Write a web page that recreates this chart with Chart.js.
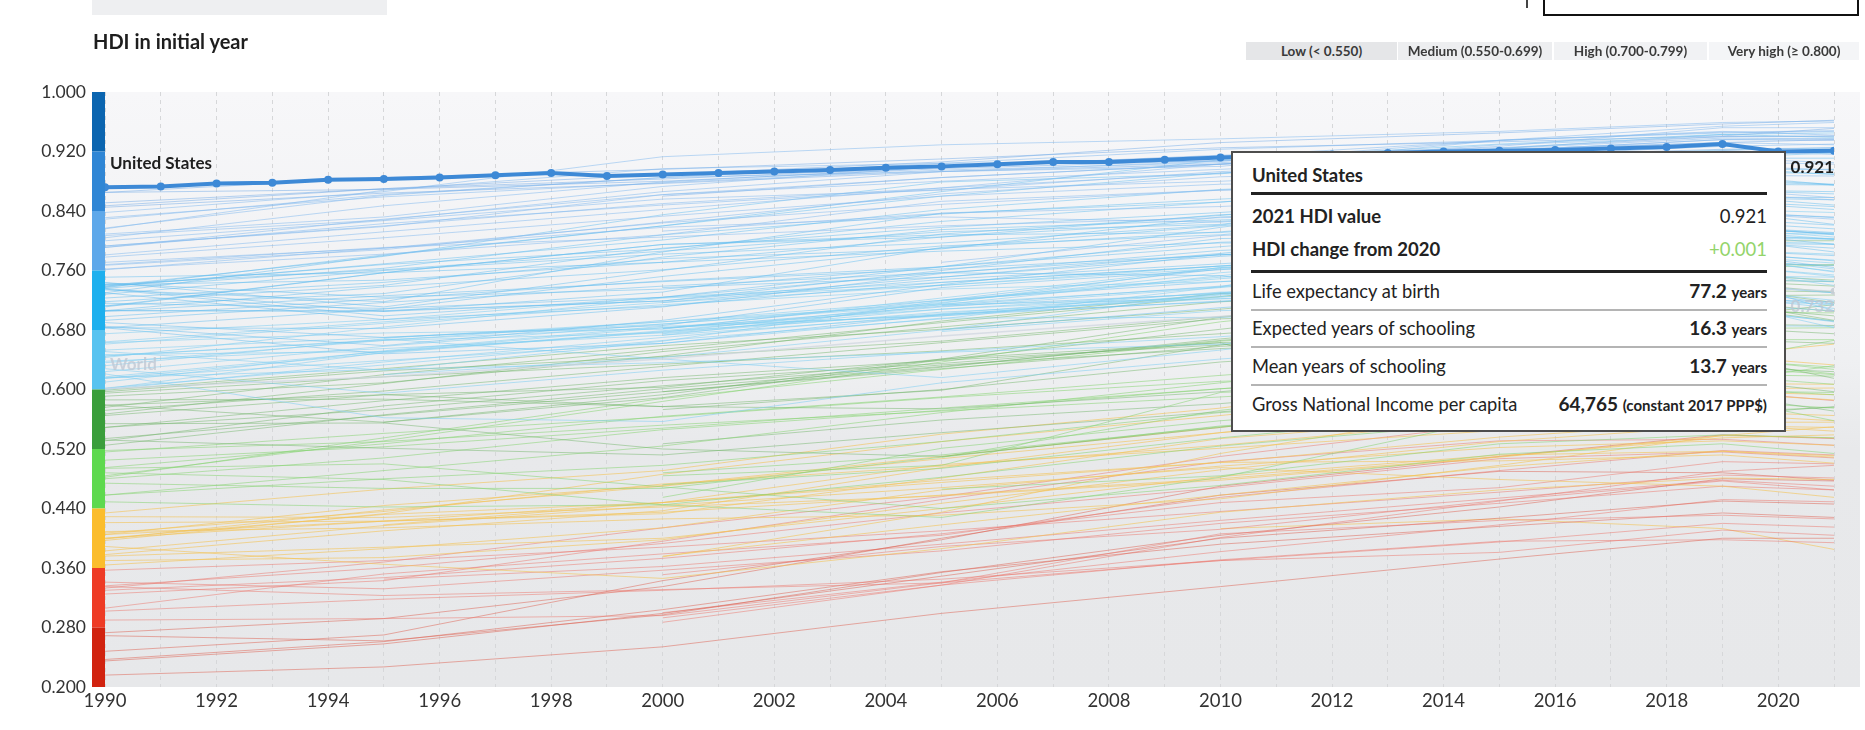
<!DOCTYPE html>
<html>
<head>
<meta charset="utf-8">
<script src="https://cdn.jsdelivr.net/npm/chart.js@4.4.1/dist/chart.umd.min.js"></script>
<style>
html,body{margin:0;padding:0;background:#fff;width:1865px;height:730px;overflow:hidden;font-family:Lato,"Noto Sans",sans-serif;color:#222;}
#c{position:absolute;left:0;top:0;}
.abs{position:absolute;}
#sel{left:92px;top:0;width:295px;height:15px;background:#eeeff1;}
#blk{left:1543px;top:-2px;width:312px;height:16px;border:2px solid #111;border-top:none;}
#mark{left:1526px;top:0;width:2px;height:8px;background:#444;}
#title{left:93px;top:28px;font-size:20px;font-weight:700;line-height:26px;color:#1e1e1e;white-space:nowrap;}
.leg{top:42px;height:18px;line-height:18px;font-size:13.5px;font-weight:700;color:#3a3a3a;text-align:center;white-space:nowrap;}
#tip{left:1231px;top:151px;width:551px;height:277px;background:#fff;border:2px solid #4d4d4d;z-index:5;}
.row{position:absolute;left:19px;right:17px;height:24px;line-height:24px;display:flex;justify-content:space-between;align-items:baseline;font-size:18.3px;white-space:nowrap;}
.b{font-weight:700;font-size:18.5px;}
.rule{position:absolute;left:18px;right:17px;}
.thick{height:3px;background:#222;}
.thin{height:1.5px;background:#b4b4b4;}
.num{font-weight:700;font-size:19px;}
.unit{font-weight:700;font-size:15px;}
.green{color:#93d46a;font-weight:400;font-size:18.5px;}
.val{font-weight:400;font-size:18.5px;}
</style>
</head>
<body>
<canvas id="c" width="1865" height="730"></canvas>
<div id="sel" class="abs"></div>
<div id="blk" class="abs"></div>
<div id="mark" class="abs"></div>
<div id="title" class="abs">HDI in initial year</div>
<div class="abs leg" style="left:1246px;width:151px;background:#e5e6e8">Low (&lt; 0.550)</div>
<div class="abs leg" style="left:1398px;width:154px;background:#edeef0">Medium (0.550-0.699)</div>
<div class="abs leg" style="left:1554px;width:153px;background:#f1f2f4">High (0.700-0.799)</div>
<div class="abs leg" style="left:1709px;width:150px;background:#f4f5f7">Very high (≥ 0.800)</div>

<div id="tip" class="abs">
  <div class="row b" style="top:10px">United States</div>
  <div class="rule thick" style="top:39px"></div>
  <div class="row" style="top:51px"><span class="b">2021 HDI value</span><span class="val">0.921</span></div>
  <div class="row" style="top:84px"><span class="b">HDI change from 2020</span><span class="green">+0.001</span></div>
  <div class="rule thick" style="top:117px"></div>
  <div class="row" style="top:126px"><span>Life expectancy at birth</span><span><span class="num">77.2</span> <span class="unit">years</span></span></div>
  <div class="rule thin" style="top:156px"></div>
  <div class="row" style="top:163px"><span>Expected years of schooling</span><span><span class="num">16.3</span> <span class="unit">years</span></span></div>
  <div class="rule thin" style="top:193px"></div>
  <div class="row" style="top:201px"><span>Mean years of schooling</span><span><span class="num">13.7</span> <span class="unit">years</span></span></div>
  <div class="rule thin" style="top:231px"></div>
  <div class="row" style="top:239px"><span>Gross National Income per capita</span><span><span class="num">64,765</span> <span class="unit">(constant 2017 PPP$)</span></span></div>
</div>

<script>
// ---------- data ----------
const years = [1990, 1995, 2000, 2005, 2010, 2015, 2019, 2021];

const usYears = [1990,1991,1992,1993,1994,1995,1996,1997,1998,1999,2000,2001,2002,2003,2004,2005,
                 2006,2007,2008,2009,2010,2011,2012,2013,2014,2015,2016,2017,2018,2019,2020,2021];
const usHDI = [0.872,0.873,0.877,0.878,0.882,0.883,0.885,0.888,0.891,0.887,0.889,0.891,0.893,0.895,0.898,0.900,
               0.903,0.906,0.906,0.909,0.912,0.914,0.916,0.918,0.920,0.921,0.922,0.924,0.926,0.930,0.920,0.921];

const worldHDI = [0.601,0.617,0.641,0.672,0.698,0.722,0.739,0.732];

const xTickYears = [1990,1991,1992,1993,1994,1995,1996,1997,1998,1999,2000,2001,2002,2003,2004,2005,
                    2006,2007,2008,2009,2010,2011,2012,2013,2014,2015,2016,2017,2018,2019,2020,2021];
const yTickValues = [0.200,0.280,0.360,0.440,0.520,0.600,0.680,0.760,0.840,0.920,1.000];

const bandEdges = [1.00,0.92,0.84,0.76,0.68,0.60,0.52,0.44,0.36,0.28,0.20];

// countries starting at 0.76 or above
const veryHighStart = [
 [.851,.870,.889,.906,.932,.945,.957,.962],
 [.838,.866,.913,.929,.937,.947,.959,.961],
 [.807,.828,.866,.893,.900,.935,.954,.959],
 [.865,.885,.896,.910,.925,.933,.941,.951],
 [.847,.870,.883,.899,.915,.925,.940,.941],
 [.865,.869,.880,.897,.908,.921,.932,.936],
 [.845,.864,.877,.893,.903,.914,.923,.925],
 [.831,.859,.878,.895,.905,.921,.936,.937],
 [.829,.862,.885,.904,.923,.935,.947,.942],
 [.817,.861,.885,.893,.907,.924,.938,.937],
 [.816,.868,.897,.904,.907,.935,.945,.947],
 [.809,.832,.873,.900,.913,.935,.946,.948],
 [.804,.847,.879,.899,.914,.923,.932,.929],
 [.800,.827,.856,.868,.893,.907,.921,.916],
 [.793,.819,.862,.885,.903,.929,.940,.940],
 [.793,.820,.850,.871,.891,.907,.919,.919],
 [.791,.823,.848,.869,.880,.896,.906,.903],
 [.791,.829,.862,.880,.896,.914,.927,.930],
 [.781,.812,.842,.871,.903,.927,.952,.952],
 [.778,.804,.833,.860,.876,.882,.901,.895],
 [.768,.791,.805,.820,.831,.838,.838,.829],
 [.771,.790,.818,.832,.825,.853,.863,.855],
 [.762,.782,.808,.853,.868,.870,.888,.887],
 [.761,.790,.824,.849,.868,.887,.911,.905],
 [.767,.788,.825,.863,.886,.896,.921,.918],
 [null,null,.860,.885,.903,.921,.936,.935],
 [null,null,.813,.837,.846,.864,.869,.858]
];

// countries starting between 0.60 and 0.76
const highStart = [
 [.739,.779,.835,.879,.890,.924,.943,.945],
 [.737,.781,.820,.860,.891,.911,.922,.925],
 [.730,.780,.820,.866,.909,.930,.943,.939],
 [.739,.768,.789,.826,.852,.882,.912,.918],
 [.736,.763,.808,.836,.856,.873,.896,.896],
 [.734,.718,.785,.837,.852,.875,.893,.890],
 [.738,.769,.801,.842,.869,.883,.898,.889],
 [.744,.711,.760,.809,.834,.865,.881,.875],
 [.736,.705,.731,.791,.820,.850,.868,.863],
 [.741,.747,.771,.805,.835,.849,.860,.848],
 [.718,.740,.790,.818,.838,.862,.883,.876],
 [.713,.729,.778,.815,.828,.838,.853,.846],
 [.711,.757,.795,.805,.826,.847,.868,.866],
 [.743,.724,.735,.765,.792,.820,.840,.822],
 [.735,.699,.724,.765,.798,.808,.821,.808],
 [.730,.694,.712,.744,.766,.779,.785,.773],
 [.741,.761,.786,.812,.822,.867,.888,.875],
 [.728,.760,.782,.797,.821,.871,.911,.911],
 [.712,.757,.795,.808,.811,.839,.840,.831],
 [.723,.744,.776,.789,.832,.847,.852,.842],
 [.751,.757,.771,.786,.797,.796,.799,.790],
 [.706,.738,.761,.793,.808,.841,.858,.855],
 [.705,.726,.745,.762,.781,.808,.818,.809],
 [.706,.706,.719,.751,.779,.800,.810,.795],
 [.706,.705,.719,.760,.803,.807,.829,.821],
 [.683,.708,.752,.790,.812,.841,.859,.858],
 [.690,.670,.686,.737,.761,.797,.819,.811],
 [.683,.682,.711,.756,.787,.801,.816,.810],
 [.685,.659,.693,.741,.782,.771,.783,.764],
 [.716,.709,.724,.757,.781,.795,.809,.802],
 [.693,.717,.739,.757,.753,.706,.722,.718],
 [.698,.722,.746,.765,.818,.864,.876,.875],
 [.664,.691,.717,.740,.766,.796,.810,.809],
 [.675,.694,.724,.744,.766,.790,.817,.805],
 [.661,.689,.714,.735,.745,.759,.779,.758],
 [.663,.676,.681,.723,.764,.758,.710,.691],
 [.643,.684,.723,.740,.763,.788,.806,.803],
 [.645,.666,.676,.708,.730,.762,.761,.740],
 [.653,.670,.688,.714,.722,.725,.726,.709],
 [.651,.626,.665,.719,.749,.770,.776,.759],
 [.636,.666,.691,.720,.751,.774,.787,.782],
 [.624,.658,.688,.717,.757,.784,.804,.802],
 [.645,.667,.683,.708,.725,.742,.742,.730],
 [.632,.668,.641,.616,.653,.698,.727,.713],
 [.616,.627,.636,.650,.661,.693,.714,.706],
 [.617,.651,.683,.700,.728,.758,.780,.762],
 [.615,.649,.678,.702,.731,.728,.734,.720],
 [.601,.650,.679,.711,.737,.770,.783,.774],
 [.621,.562,.557,.609,.641,.666,.686,.685],
 [.628,.595,.626,.651,.671,.696,.707,.692],
 [.600,.637,.670,.701,.724,.753,.767,.752],
 [.602,.633,.666,.695,.738,.804,.842,.838],
 [.683,.648,.662,.701,.718,.750,.771,.767],
 [.647,.651,.677,.716,.764,.789,.800,.796],
 [.615,.639,.662,.696,.697,.709,.717,.683],
 [.610,.652,.685,.699,.727,.755,.766,.754],
 [.638,.655,.673,.699,.719,.733,.748,.745],
 [null,null,null,.720,.762,.755,.749,.706],
 [null,.620,.643,.680,.730,.748,.759,.745],
 [null,null,.673,.714,.753,.790,.814,.802],
 [null,null,.737,.751,.783,.821,.825,.816],
 [null,.669,.691,.715,.738,.761,.780,.770],
 [null,null,.682,.720,.745,.766,.787,.780],
 [null,null,null,.771,.807,.821,.837,.832],
 [null,null,.717,.748,.769,.793,.803,.785],
 [null,null,.682,.712,.729,.730,.735,.715],
 [null,null,null,.713,.739,.779,.797,.795],
 [null,null,.675,.704,.722,.741,.753,.751],
 [null,null,null,.680,.710,.735,.743,.730],
 [null,null,null,.678,.706,.716,.719,.715]
];

// countries starting between 0.44 and 0.60
const mediumStart = [
 [.576,.620,.654,.690,.725,.767,.800,.800],
 [.591,.609,.645,.692,.729,.740,.748,.745],
 [.572,.598,.631,.663,.695,.707,.734,.731],
 [.567,.608,.651,.684,.718,.730,.744,.731],
 [.579,.556,.593,.641,.697,.734,.746,.739],
 [.595,.617,.634,.652,.675,.700,.712,.699],
 [.597,.625,.644,.665,.698,.723,.737,.717],
 [.599,.628,.659,.681,.708,.740,.770,.767],
 [.586,.587,.577,.599,.660,.696,.718,.693],
 [.579,.593,.577,.574,.597,.630,.646,.615],
 [.565,.593,.603,.641,.663,.548,.566,.577],
 [.549,.573,.605,.633,.655,.670,.688,.686],
 [.525,.566,.601,.631,.666,.696,.718,.705],
 [.554,.555,.520,.510,.549,.592,.614,.597],
 [.549,.585,.616,.639,.660,.686,.711,.692],
 [.532,.521,.512,.542,.570,.598,.593,.571],
 [.531,.578,.612,.635,.663,.676,.683,.675],
 [.534,.565,.597,.628,.658,.676,.698,.714],
 [null,null,.573,.600,.637,.660,.667,.662],
 [null,null,.597,.630,.668,.701,.726,.727],
 [null,.556,.589,.640,.681,.722,.755,.747],
 [.516,.541,.563,.589,.611,.623,.636,.621],
 [.495,.527,.564,.590,.619,.646,.667,.667],
 [.494,.500,.469,.440,.471,.513,.527,.514],
 [.488,.479,.445,.428,.482,.561,.601,.593],
 [.484,.531,.584,.637,.691,.729,.762,.768],
 [.482,.535,.588,.627,.665,.689,.704,.703],
 [.480,.508,.546,.572,.601,.628,.642,.627],
 [.474,.467,.467,.509,.551,.573,.584,.575],
 [.458,.491,.524,.569,.609,.648,.682,.683],
 [.458,.480,.498,.530,.569,.590,.611,.632],
 [.449,.442,.445,.482,.524,.556,.570,.576],
 [.505,.523,.548,.575,.601,.622,.640,.630],
 [.518,.530,.552,.571,.590,.611,.630,.620],
 [null,null,.488,.512,.550,.577,.620,.618],
 [null,null,.455,.521,.558,.586,.598,.596],
 [null,null,null,.466,.484,.527,.539,.535],
 [null,null,.484,.498,.596,.611,.618,.607],
 [null,null,.472,.494,.535,.570,.588,.558],
 [null,null,.527,.559,.581,.612,.630,.624],
 [null,null,null,.509,.572,.612,.640,.666]
];

// countries starting between 0.36 and 0.44
const lowStart = [
 [.434,.466,.491,.540,.575,.624,.645,.633],
 [.421,.423,.433,.481,.534,.563,.570,.565],
 [.405,.444,.471,.510,.549,.591,.608,.607],
 [.405,.423,.435,.458,.480,.510,.535,.539],
 [.409,.414,.426,.431,.453,.498,.538,.550],
 [.400,.423,.448,.478,.502,.536,.556,.556],
 [.400,.432,.448,.499,.521,.545,.553,.544],
 [.399,.438,.470,.507,.542,.576,.601,.602],
 [.397,.433,.486,.530,.565,.604,.646,.661],
 [.407,.436,.473,.497,.525,.559,.566,.558],
 [.389,.365,.346,.386,.435,.465,.481,.479],
 [.383,.417,.444,.468,.495,.479,.470,.455],
 [.378,.410,.437,.495,.542,.575,.597,.593],
 [.376,.388,.400,.440,.483,.512,.517,.511],
 [.370,.374,.398,.447,.492,.530,.551,.549],
 [.429,.428,.442,.457,.478,.509,.538,.535],
 [.364,.386,.414,.465,.497,.522,.531,.525],
 [null,.418,.448,.475,.502,.504,.512,.501],
 [null,null,.376,.418,.458,.496,.517,.509],
 [null,null,.375,.435,.514,.575,.595,.586]
];

// countries starting below 0.36
const lowestStart = [
 [.357,.370,.388,.410,.436,.462,.485,.481],
 [.341,.332,.357,.383,.420,.447,.470,.465],
 [.336,.360,.393,.434,.468,.507,.516,.508],
 [.333,.368,.414,.456,.510,.554,.598,.585],
 [.335,.323,.331,.340,.370,.381,.411,.404],
 [.325,.343,.396,.452,.503,.531,.533,.525],
 [.330,.347,.373,.406,.448,.468,.503,.500],
 [.306,.352,.379,.404,.455,.491,.518,.512],
 [.302,.318,.330,.345,.370,.395,.420,.415],
 [.290,.292,.296,.340,.406,.424,.431,.426],
 [.273,.292,.335,.400,.458,.490,.488,.478],
 [.269,.262,.297,.354,.404,.442,.480,.477],
 [.248,.270,.343,.398,.470,.510,.539,.534],
 [.237,.261,.304,.355,.392,.416,.434,.428],
 [.235,.258,.299,.349,.400,.427,.450,.446],
 [.216,.227,.254,.299,.335,.372,.400,.400],
 [null,.345,.362,.392,.424,.454,.478,.470],
 [null,null,.351,.389,.412,.451,.477,.465],
 [null,null,.300,.341,.382,.418,.452,.449],
 [null,null,.293,.337,.371,.396,.398,.394],
 [null,null,.287,.337,.401,.450,.490,.498],
 [null,null,null,null,.413,.426,.413,.385]
];

// ---------- styles ----------
const bandColors = ['#0b65b0','#2f86d5','#5ea8ea','#1eb0ee','#58c3f0','#3a9e3b','#5ed94e','#fbbd2c','#ee3b25','#d1230f'];
const lineColors = ['rgba(95,160,225,0.5)','rgba(115,172,232,0.5)','rgba(135,188,238,0.55)',
                    'rgba(100,190,240,0.5)','rgba(125,205,242,0.55)','rgba(115,182,108,0.5)',
                    'rgba(135,212,115,0.55)','rgba(243,195,85,0.6)','rgba(236,118,108,0.5)','rgba(222,95,80,0.5)'];

function bandIndex(v){
  for (let i = 0; i < bandEdges.length - 1; i++) { if (v >= bandEdges[i+1]) return i; }
  return bandEdges.length - 2;
}

const allGroups = [veryHighStart, highStart, mediumStart, lowStart, lowestStart];
const countryDatasets = [];
allGroups.forEach(g => g.forEach(row => {
  const pts = years.map((yr, i) => ({x: yr, y: row[i]})).filter(p => p.y !== null);
  const c = lineColors[bandIndex(pts[0].y)];
  countryDatasets.push({data: pts, borderColor: c, borderWidth: 1, pointRadius: 0, tension: 0, order: 2});
}));

const usData = usYears.map((yr, i) => ({x: yr, y: usHDI[i]}));
const worldData = years.map((yr, i) => ({x: yr, y: worldHDI[i]}));

const datasets = [
  {data: usData, borderColor: '#3d89d6', backgroundColor: '#3d89d6', borderWidth: 4,
   pointRadius: 4, pointBorderWidth: 0, pointBackgroundColor: '#3d89d6', tension: 0, order: 0},
  {data: worldData, borderColor: 'rgba(205,212,222,0.7)', borderWidth: 1.5,
   pointRadius: ctx => ctx.dataIndex === worldData.length - 1 ? 3.5 : 0,
   pointBackgroundColor: 'rgba(200,205,212,0.9)', pointBorderWidth: 0, tension: 0, order: 1},
  ...countryDatasets
];

const L = 105, R = 1834, TOP = 92, BOT = 687;

const bgPlugin = {
  id: 'bg',
  beforeDraw(chart) {
    const {ctx, chartArea: a, scales: {y}} = chart;
    ctx.save();
    const g = ctx.createLinearGradient(0, a.top, 0, a.bottom);
    g.addColorStop(0, '#f7f7f9');
    g.addColorStop(0.45, '#eff0f2');
    g.addColorStop(0.6, '#e8e9eb');
    g.addColorStop(1, '#e7e8ea');
    ctx.fillStyle = g;
    ctx.fillRect(a.left, a.top, 1860 - a.left, a.bottom - a.top);
    for (let i = 0; i < bandColors.length; i++) {
      const y1 = y.getPixelForValue(bandEdges[i]);
      const y2 = y.getPixelForValue(bandEdges[i+1]);
      ctx.fillStyle = bandColors[i];
      ctx.fillRect(a.left - 13, y1, 13, y2 - y1);
    }
    ctx.restore();
  }
};

const labelPlugin = {
  id: 'labels',
  afterDatasetsDraw(chart) {
    const {ctx, scales: {x, y}} = chart;
    ctx.save();
    ctx.textBaseline = 'middle';
    ctx.font = '700 17px Lato';
    ctx.fillStyle = 'rgba(190,198,210,0.75)';
    ctx.textAlign = 'left';
    ctx.fillText('World', x.getPixelForValue(1990) + 5, y.getPixelForValue(worldHDI[0]) - 24);
    ctx.textAlign = 'right';
    ctx.fillText(worldHDI[worldHDI.length-1].toFixed(3), x.getPixelForValue(2021), y.getPixelForValue(worldHDI[worldHDI.length-1]) + 15);
    ctx.fillStyle = '#1e1e1e';
    ctx.textAlign = 'left';
    ctx.fillText('United States', x.getPixelForValue(1990) + 5, y.getPixelForValue(usHDI[0]) - 24);
    ctx.textAlign = 'right';
    ctx.fillText(usHDI[usHDI.length-1].toFixed(3), x.getPixelForValue(2021), y.getPixelForValue(usHDI[usHDI.length-1]) + 17);
    ctx.restore();
  }
};

Chart.defaults.font.family = 'Lato';
new Chart(document.getElementById('c'), {
  type: 'line',
  data: {datasets},
  options: {
    responsive: false,
    animation: false,
    events: [],
    layout: {padding: {top: TOP, right: 1865 - R, left: 0, bottom: 0}},
    plugins: {legend: {display: false}, tooltip: {enabled: false}},
    scales: {
      x: {
        type: 'linear', min: 1990, max: 2021,
        afterBuildTicks: s => { s.ticks = xTickYears.map(v => ({value: v})); },
        afterFit: s => { s.height = 730 - BOT; },
        ticks: {autoSkip: false, maxRotation: 0, padding: 3, color: '#333', font: {size: 18.5},
                callback: v => (v % 2 === 0 ? String(v) : '')},
        grid: {color: '#d6d7d9', lineWidth: 1, drawTicks: false},
        border: {display: false, dash: [4, 4]}
      },
      y: {
        type: 'linear', min: 0.2, max: 1.0,
        afterBuildTicks: s => { s.ticks = yTickValues.map(v => ({value: v})); },
        afterFit: s => { s.width = L; },
        ticks: {padding: 19, color: '#333', font: {size: 17.5}, callback: v => Number(v).toFixed(3)},
        grid: {display: false, drawTicks: false},
        border: {display: false}
      }
    }
  },
  plugins: [bgPlugin, labelPlugin]
});
</script>
</body>
</html>
